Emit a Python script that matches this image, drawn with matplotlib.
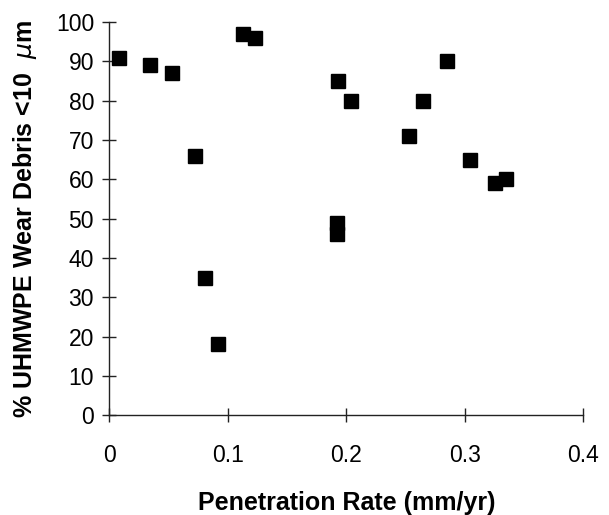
import matplotlib
matplotlib.use('Agg')
from matplotlib import pyplot as plt

# Penetration rate (mm/yr) vs % of debris smaller than 10 um
rate = [0.008, 0.034, 0.053, 0.072, 0.081, 0.092, 0.113, 0.123,
        0.192, 0.192, 0.193, 0.204, 0.253, 0.265, 0.285, 0.304, 0.325, 0.335]
pct_small = [91, 89, 87, 66, 35, 18, 97, 96,
             49, 46, 85, 80, 71, 80, 90, 65, 59, 60]

xticks = [0, 0.1, 0.2, 0.3, 0.4]
xtick_labels = ['0', '0.1', '0.2', '0.3', '0.4']
yticks = list(range(0, 101, 10))

plt.rcParams['font.family'] = ['Liberation Sans', 'DejaVu Sans']

fig = plt.figure(figsize=(6.09, 5.15), dpi=100)
ax = fig.add_axes([0.1795, 0.194, 0.7785, 0.763])

ax.plot(rate, pct_small, 's', color='black', markersize=9.5, clip_on=False)

ax.set_xlim(0, 0.4)
ax.set_ylim(0, 100)
ax.set_xticks(xticks)
ax.set_xticklabels(xtick_labels)
ax.set_yticks(yticks)

for side in ['top', 'right']:
    ax.spines[side].set_visible(False)
for side in ['left', 'bottom']:
    ax.spines[side].set_linewidth(1.0)
    ax.spines[side].set_color('#222222')

ax.tick_params(axis='both', direction='inout', length=10, width=1.0,
               color='#222222', labelsize=16.5)
ax.tick_params(axis='x', pad=16)
ax.tick_params(axis='y', pad=6)

ax.set_xlabel('Penetration Rate (mm/yr)', fontsize=18, fontweight='bold', labelpad=17)
ax.set_ylabel('% UHMWPE Wear Debris <10  $\\mu$m', fontsize=18, fontweight='bold', labelpad=12)

fig.savefig('out.png', dpi=100)
